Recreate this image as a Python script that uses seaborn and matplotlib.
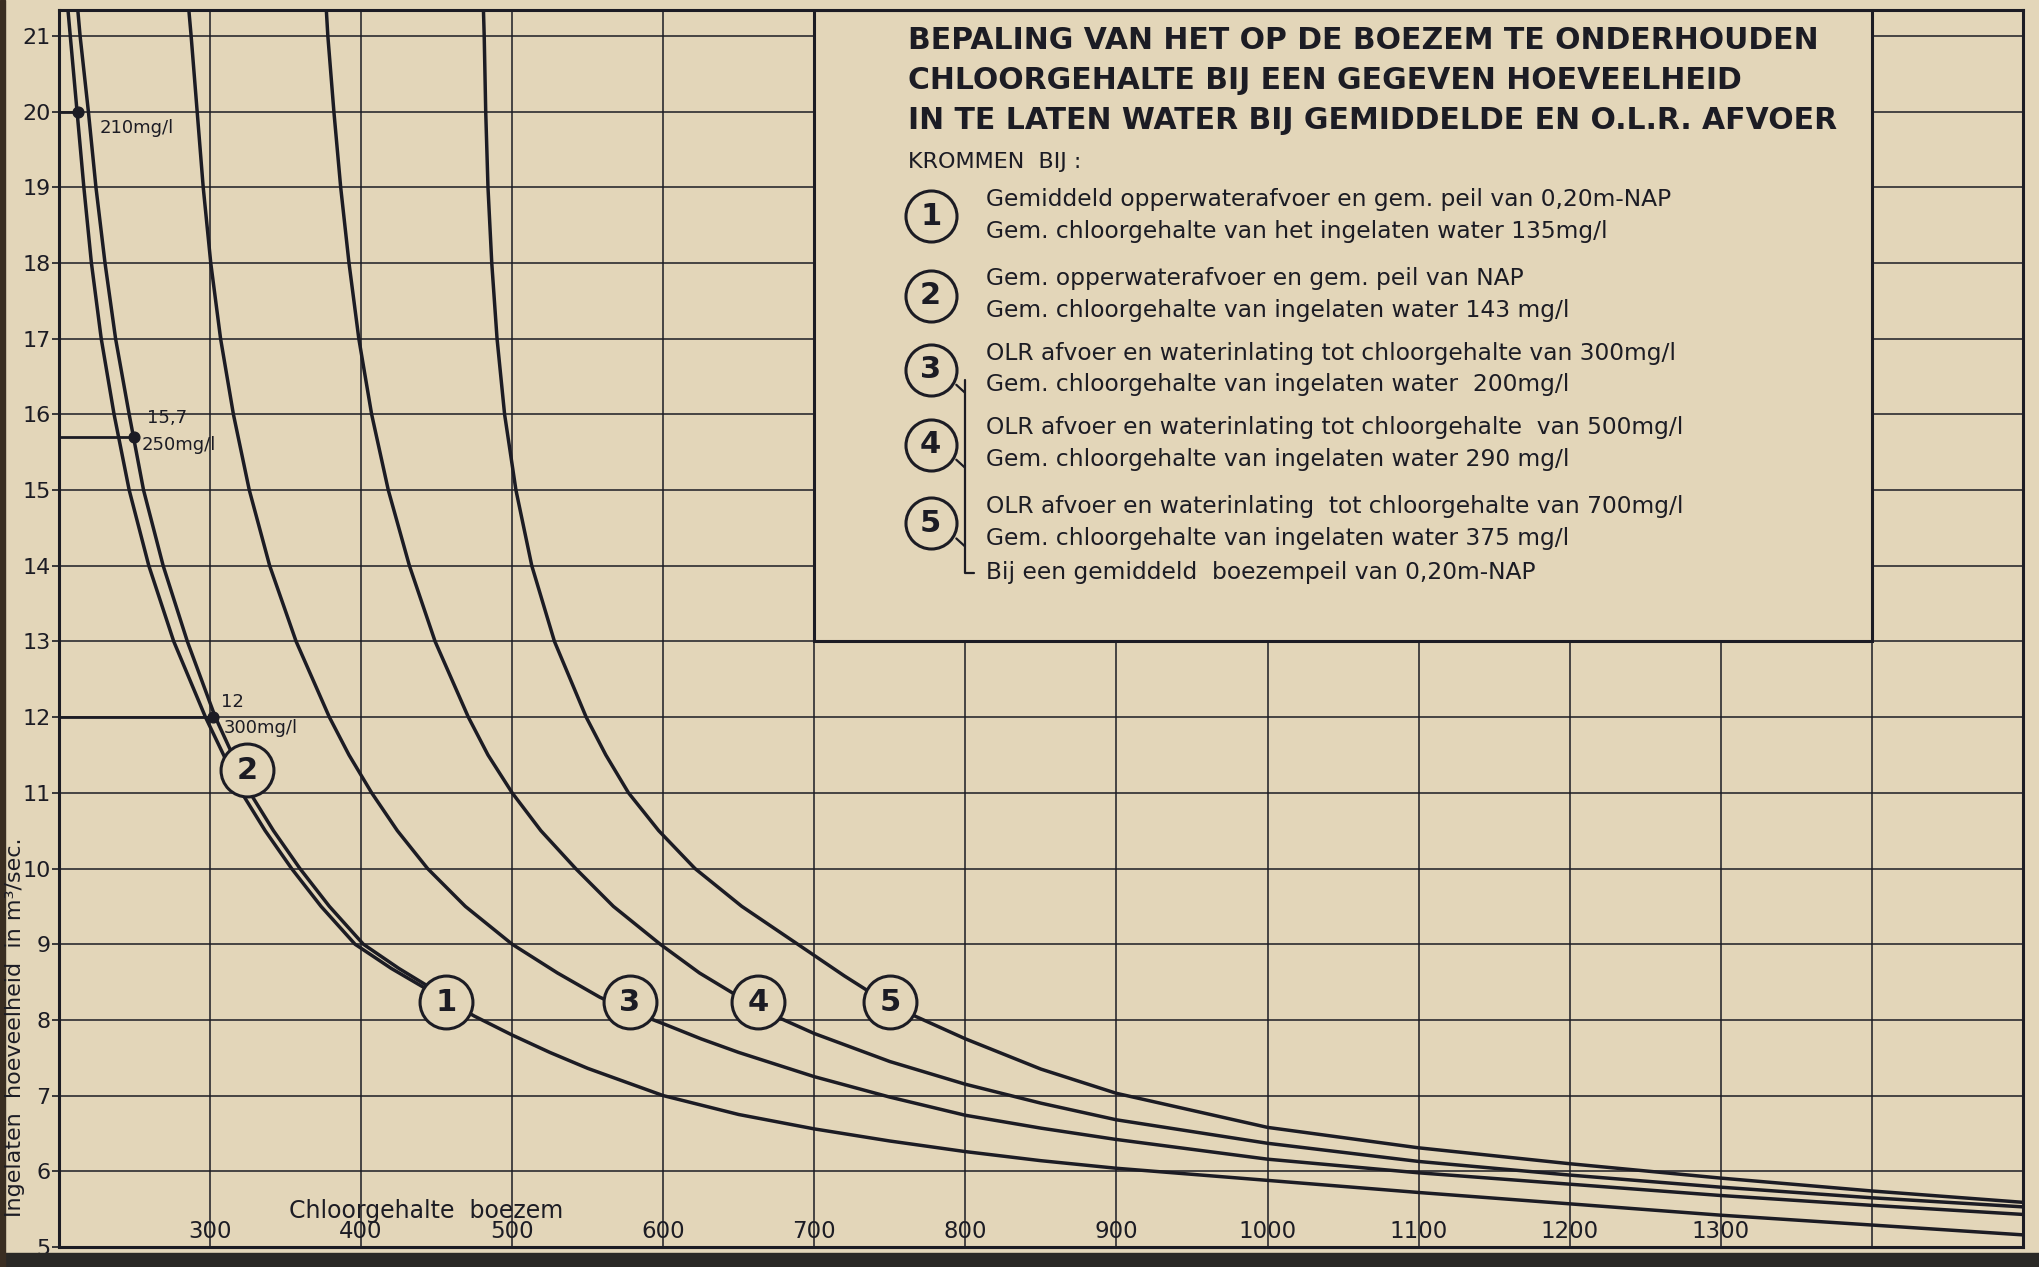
import matplotlib
matplotlib.use("Agg")
import matplotlib.pyplot as plt
import seaborn as sns
from matplotlib import font_manager
from matplotlib.patches import Rectangle

# waarden: x = chloorgehalte boezem (mg/l), y = ingelaten hoeveelheid (m3/sec)
curve1_x = [206, 207.5, 212, 216.5, 221.5, 228, 236.5, 246.5, 259.5, 276, 297, 321, 336.5, 354, 373.5, 396,
            420, 444, 456, 475, 500, 525, 550, 600, 650, 700, 750, 800, 850, 900, 1000, 1100, 1200,
            1300, 1400, 1500]
curve1_y = [21.34, 21, 20, 19, 18, 17, 16, 15, 14, 13, 12, 11, 10.5, 10, 9.5, 9,
            8.68, 8.4, 8.27, 8.05, 7.8, 7.57, 7.36, 7.0, 6.75, 6.56, 6.4, 6.26, 6.14, 6.04, 5.88, 5.72, 5.57,
            5.42, 5.29, 5.16]

curve2_x = [212.5, 214, 219.5, 224.5, 230.5, 237.5, 246.5, 256, 269, 285, 303.5, 326.5, 342, 359.5, 379, 401.5,
            425, 448, 456]
curve2_y = [21.34, 21, 20, 19, 18, 17, 16, 15, 14, 13, 12, 11, 10.5, 10, 9.5, 9,
            8.68, 8.4, 8.27]

curve3_x = [286, 287.5, 291.5, 295.5, 300.5, 307, 315.5, 326, 339.5, 357, 379, 392, 407, 424, 444, 469, 500,
            530, 558, 578, 600, 625, 650, 700, 750, 800, 850, 900, 1000, 1100, 1200, 1300, 1400, 1500]
curve3_y = [21.34, 21, 20, 19, 18, 17, 16, 15, 14, 13, 12, 11.5, 11, 10.5, 10, 9.5, 9,
            8.62, 8.3, 8.12, 7.95, 7.75, 7.57, 7.25, 6.98, 6.74, 6.57, 6.42, 6.16, 5.98, 5.83, 5.68, 5.55, 5.43]

curve4_x = [377, 378, 382, 386.5, 392, 398.5, 407, 418, 432, 449, 471, 484, 500, 519, 542, 567, 598, 624, 663,
            700, 750, 800, 850, 900, 1000, 1100, 1200, 1300, 1400, 1500]
curve4_y = [21.34, 21, 20, 19, 18, 17, 16, 15, 14, 13, 12, 11.5, 11, 10.5, 10, 9.5, 9, 8.62, 8.15,
            7.82, 7.45, 7.15, 6.9, 6.68, 6.37, 6.13, 5.95, 5.79, 5.65, 5.53]

curve5_x = [481, 481.5, 482.5, 484, 486.5, 490, 495, 502.5, 513, 528, 549, 562, 577, 597, 621, 652, 689, 720, 750,
            800, 850, 900, 1000, 1100, 1200, 1300, 1400, 1500]
curve5_y = [21.34, 21, 20, 19, 18, 17, 16, 15, 14, 13, 12, 11.5, 11, 10.5, 10, 9.5, 9, 8.58, 8.2,
            7.75, 7.35, 7.03, 6.58, 6.31, 6.1, 5.91, 5.74, 5.59]

# nummers van de krommen en waar ze op de lijn staan
curve_labels = ["1", "2", "3", "4", "5"]
label_x = [456, 324.5, 578, 663, 750]
label_y = [8.23, 11.3, 8.23, 8.23, 8.23]

# gemarkeerde punten links
mark_x = [212.5, 250, 302]
mark_y = [20, 15.7, 12]

x_grid = list(range(200, 1501, 100))
x_tick_labels = [300, 400, 500, 600, 700, 800, 900, 1000, 1100, 1200, 1300]
y_ticks = list(range(5, 22))

title_lines = ["BEPALING VAN HET OP DE BOEZEM TE ONDERHOUDEN",
               "CHLOORGEHALTE BIJ EEN GEGEVEN HOEVEELHEID",
               "IN TE LATEN WATER BIJ GEMIDDELDE EN O.L.R. AFVOER"]
legend_lines = [
    ("Gemiddeld opperwaterafvoer en gem. peil van 0,20m-NAP",
     "Gem. chloorgehalte van het ingelaten water 135mg/l"),
    ("Gem. opperwaterafvoer en gem. peil van NAP",
     "Gem. chloorgehalte van ingelaten water 143 mg/l"),
    ("OLR afvoer en waterinlating tot chloorgehalte van 300mg/l",
     "Gem. chloorgehalte van ingelaten water  200mg/l"),
    ("OLR afvoer en waterinlating tot chloorgehalte  van 500mg/l",
     "Gem. chloorgehalte van ingelaten water 290 mg/l"),
    ("OLR afvoer en waterinlating  tot chloorgehalte van 700mg/l",
     "Gem. chloorgehalte van ingelaten water 375 mg/l"),
]

paper = "#e3d6b9"
ink = "#1c1c24"

sns.set_theme(style="white")
plt.rcParams["font.family"] = ["DejaVu Sans"]
names = {f.name for f in font_manager.fontManager.ttflist}
narrow = "Liberation Sans Narrow" if "Liberation Sans Narrow" in names else "DejaVu Sans"

fig = plt.figure(figsize=(20.39, 12.67), dpi=100, facecolor=paper)
ax = fig.add_axes([0.0289, 0.0158, 0.9632, 0.9762])
ax.set_facecolor(paper)
ax.set_xlim(200, 1500)
ax.set_ylim(5, 21.34)
ax.set_axisbelow(True)
ax.set_xticks(x_grid)
ax.set_yticks(y_ticks)
ax.set_yticklabels([str(v) for v in y_ticks], fontsize=16, color=ink)
ax.tick_params(axis="x", labelbottom=False, length=0)
ax.tick_params(axis="y", length=5, width=1.2, color=ink, pad=1, direction="out", left=True)
ax.grid(True, color=ink, lw=1.1)
for s in ax.spines.values():
    s.set_color(ink)
    s.set_linewidth(2.2)

# kader van de legenda
ax.add_patch(Rectangle((700, 13), 700, 8.34, facecolor=paper, edgecolor=ink, lw=2.2, zorder=2))

for cx, cy in [(curve1_x, curve1_y), (curve2_x, curve2_y), (curve3_x, curve3_y),
               (curve4_x, curve4_y), (curve5_x, curve5_y)]:
    sns.lineplot(x=cx, y=cy, ax=ax, color=ink, lw=2.5, sort=False, estimator=None, zorder=3)

ax.scatter(label_x, label_y, s=1450, facecolor=paper, edgecolor=ink, lw=2.2, zorder=5)
for t, lx, ly in zip(curve_labels, label_x, label_y):
    ax.text(lx, ly, t, fontsize=22, fontweight="bold", color=ink, ha="center", va="center", zorder=6)

# markeringen 210, 250, 300 mg/l
ax.hlines(mark_y, 200, mark_x, color=ink, lw=2, zorder=3)
ax.scatter(mark_x, mark_y, s=60, color=ink, zorder=4)
ax.text(227, 19.78, "210mg/l", fontsize=13, color=ink, va="center")
ax.text(258, 15.95, "15,7", fontsize=13, color=ink, va="center")
ax.text(255, 15.6, "250mg/l", fontsize=13, color=ink, va="center")
ax.text(307, 12.2, "12", fontsize=13, color=ink, va="center")
ax.text(309, 11.85, "300mg/l", fontsize=13, color=ink, va="center")

# x-as labels binnen de grafiek
for v in x_tick_labels:
    ax.text(v, 5.2, str(v), fontsize=16.5, color=ink, ha="center", va="center")
ax.text(443, 5.47, "Chloorgehalte  boezem", fontsize=17, color=ink, ha="center", va="center",
        family=narrow)
fig.text(15 / 2039, 1 - 1027 / 1267, "Ingelaten  hoeveelheid  in m³/sec.", rotation=90,
         fontsize=16, color=ink, ha="center", va="center", family=narrow)

# titel en legenda
for i, line in enumerate(title_lines):
    ax.text(762, 20.94 - 0.53 * i, line, fontsize=21.5, fontweight="bold", color=ink,
            ha="left", va="center", zorder=4)
ax.text(762, 19.33, "KROMMEN  BIJ :", fontsize=16, color=ink, ha="left", va="center", zorder=4)

leg_circle_y = [18.62, 17.57, 16.59, 15.6, 14.56]
ax.scatter([777] * 5, leg_circle_y, s=1350, facecolor=paper, edgecolor=ink, lw=2.2, zorder=5)
for t, ly, (l1, l2) in zip(curve_labels, leg_circle_y, legend_lines):
    ax.text(777, ly, t, fontsize=22, fontweight="bold", color=ink, ha="center", va="center", zorder=6)
    ax.text(813.5, ly + 0.22, l1, fontsize=16.8, color=ink, ha="left", va="center", family=narrow, zorder=6)
    ax.text(813.5, ly - 0.2, l2, fontsize=16.8, color=ink, ha="left", va="center", family=narrow, zorder=6)
ax.text(813.5, 13.91, "Bij een gemiddeld  boezempeil van 0,20m-NAP", fontsize=16.8, color=ink,
        ha="left", va="center", family=narrow, zorder=6)
ax.plot([799.5, 799.5, 806], [16.45, 13.91, 13.91], color=ink, lw=1.6, zorder=4)
for ly in leg_circle_y[2:]:
    ax.plot([794, 799.5], [ly - 0.2, ly - 0.3], color=ink, lw=1.6, zorder=4)

# donkere rand onder en links (scan)
fig.patches.append(Rectangle((0, 0), 1, 0.011, transform=fig.transFigure, color="#2a2926"))
fig.patches.append(Rectangle((0, 0), 0.0025, 1, transform=fig.transFigure, color="#3a2e22"))

fig.savefig("out.png", dpi=100, facecolor=paper)
